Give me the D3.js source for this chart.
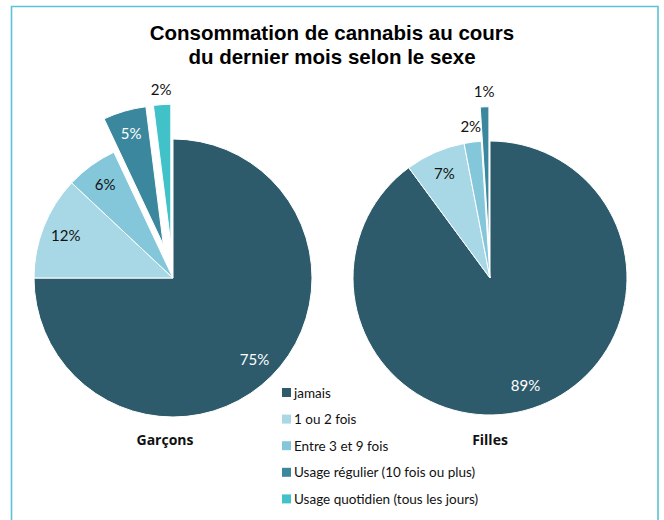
<!DOCTYPE html>
<html>
<head>
<meta charset="utf-8">
<script src="https://cdn.jsdelivr.net/npm/d3@7"></script>
<style>
  body { margin: 0; background: #fff; }
  svg { display: block; }
</style>
</head>
<body>
<svg id="chart"></svg>
<script>
// categories and values
var categories = ["jamais", "1 ou 2 fois", "Entre 3 et 9 fois", "Usage régulier (10 fois ou plus)", "Usage quotidien (tous les jours)"];
var groups = ["Garçons", "Filles"];
var garcons = [75, 12, 6, 5, 2];
var filles = [89, 7, 2, 1, 0];
var exploded = [[3, 4], [3]];   // index of the slices pulled out
var titleLines = ["Consommation de cannabis au cours", "du dernier mois selon le sexe"];

var width = 664, height = 520;

var color = d3.scaleOrdinal()
    .domain(categories)
    .range(["#2d5b6b", "#a8d8e6", "#85c7da", "#3a879e", "#40c2c8"]);

var svg = d3.select("#chart")
    .attr("width", width)
    .attr("height", height);

// frame (open at the bottom)
svg.append("path")
    .attr("d", "M11.5,520V6.5H658V520")
    .attr("fill", "none")
    .attr("stroke", "#5bc3d6")
    .attr("stroke-width", 1.6);

svg.selectAll(".title")
    .data(titleLines)
    .enter().append("text")
    .attr("class", "title")
    .attr("x", 332)
    .attr("y", function(d, i) { return 40 + i * 24; })
    .attr("text-anchor", "middle")
    .style("font-family", "'Liberation Sans', Arial, sans-serif")
    .style("font-weight", "bold")
    .style("font-size", "20.5px")
    .text(function(d) { return d; });

var pie = d3.pie()
    .sort(null)
    .value(function(d) { return d; });

var pies = [
  { name: groups[0], values: garcons, cx: 173, cy: 278, r: 139, out: exploded[0] },
  { name: groups[1], values: filles, cx: 490, cy: 278, r: 137, out: exploded[1] }
];

pies.forEach(function(p, pi) {
  var arc = d3.arc().innerRadius(0).outerRadius(p.r);
  var explode = p.r * 0.25;

  var g = svg.append("g")
      .attr("transform", "translate(" + p.cx + "," + p.cy + ")");

  var slices = g.selectAll(".arc")
      .data(pie(p.values).map(function(d) { return Object.assign(d, {cat: categories[d.index]}); })
        .filter(function(d) { return d.value > 0; }))
      .enter().append("g")
      .attr("class", "arc")
      .attr("transform", function(d) {
        if (p.out.indexOf(d.index) < 0) return null;
        var a = (d.startAngle + d.endAngle) / 2;
        return "translate(" + (Math.sin(a) * explode) + "," + (-Math.cos(a) * explode) + ")";
      });

  slices.append("path")
      .attr("d", arc)
      .attr("fill", function(d) { return color(d.cat); })
      .attr("stroke", "#fff")
      .attr("stroke-width", 1);

  slices.append("text")
      .attr("transform", function(d) {
        var a = (d.startAngle + d.endAngle) / 2;
        var k = d.value < 3 ? 1.11 : 0.83;
        return "translate(" + (Math.sin(a) * p.r * k) + "," + (-Math.cos(a) * p.r * k) + ")";
      })
      .attr("dy", "0.35em")
      .attr("text-anchor", "middle")
      .style("font-family", "Lato, sans-serif")
      .style("font-size", "15px")
      .attr("fill", function(d) { return (d.index === 0 || (d.index === 3 && d.value >= 3)) ? "#fff" : "#111"; })
      .text(function(d) { return d.value + "%"; });

  svg.append("text")
      .attr("x", p.cx - (pi === 0 ? 8 : 0))
      .attr("y", 445)
      .attr("text-anchor", "middle")
      .style("font-family", "'Open Sans', sans-serif")
      .style("font-weight", "bold")
      .style("font-size", "14px")
      .attr("fill", "#111")
      .text(p.name);
});

// legend
var legend = svg.append("g")
    .attr("transform", "translate(282,388)");

var item = legend.selectAll(".item")
    .data(categories)
    .enter().append("g")
    .attr("class", "item")
    .attr("transform", function(d, i) { return "translate(0," + (i * 26.6) + ")"; });

item.append("rect")
    .attr("width", 9).attr("height", 9)
    .attr("fill", function(d) { return color(d); });

item.append("text")
    .attr("x", 12).attr("y", 9.5)
    .style("font-family", "Lato, sans-serif")
    .style("font-size", "13.5px")
    .attr("fill", "#111")
    .text(function(d) { return d; });
</script>
</body>
</html>
